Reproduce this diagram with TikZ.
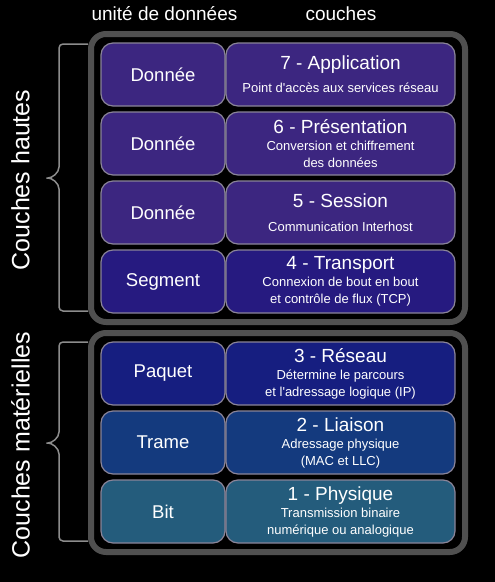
\documentclass[tikz,border=0pt]{standalone}
\usepackage{fontspec}
\setmainfont{Liberation Sans}[Ligatures=TeXOff]
\usetikzlibrary{positioning,fit}
\definecolor{edgegray}{HTML}{8A8498}
\definecolor{framegray}{HTML}{505050}
\definecolor{bracegray}{HTML}{8C8C8C}
\definecolor{haut}{HTML}{3C2680}
\definecolor{transp}{HTML}{261A80}
\definecolor{reseau}{HTML}{161E80}
\definecolor{liaison}{HTML}{143A7E}
\definecolor{physique}{HTML}{245C7C}
\newcommand\layertitle[1]{{\fontsize{19}{17}\selectfont #1}}

\begin{document}
\begin{tikzpicture}[x=1pt, y=-1pt,
    unit/.style = {draw=edgegray, line width=1.2pt, rounded corners=12pt,
      minimum width=124pt, minimum height=63pt, inner sep=0pt, outer sep=0pt,
      text=white, font=\fontsize{18.5}{22}\selectfont},
    layer/.style = {unit, minimum width=229pt, align=center,
      font=\fontsize{13}{17}\selectfont},
    frame/.style = {draw=framegray, line width=6pt, rounded corners=15pt,
      inner xsep=10pt, inner ysep=9pt},
    brace/.style = {draw=bracegray, line width=1.5pt, rounded corners=4pt},
    side/.style = {text=white, rotate=90, font=\fontsize{25}{30}\selectfont},
    head/.style = {text=white, anchor=base, font=\fontsize{19}{23}\selectfont}]
  \fill[black] (0,0) rectangle (495,582);
  \useasboundingbox (0,0) rectangle (495,582);

  \node[head] (hu) at (164.5,20.7) {unité de données};
  \node[head] (hc) at (341,20.7) {couches};

  % couches hautes
  \node[unit, fill=haut, anchor=north west] (u7) at (101,43) {Donnée};
  \node[unit, fill=haut] (u6) [below=6pt of u7] {Donnée};
  \node[unit, fill=haut] (u5) [below=6pt of u6] {Donnée};
  \node[unit, fill=transp] (u4) [below=6pt of u5] {Segment};
  \node[layer, fill=haut] (c7) [right=1pt of u7]
    {\layertitle{7 - Application}\\[6pt]Point d'accès aux services réseau};
  \node[layer, fill=haut] (c6) [right=1pt of u6]
    {\layertitle{6 - Présentation}\\Conversion et chiffrement\\des données};
  \node[layer, fill=haut] (c5) [right=1pt of u5]
    {\layertitle{5 - Session}\\[7pt]Communication Interhost};
  \node[layer, fill=transp] (c4) [right=1pt of u4]
    {\layertitle{4 - Transport}\\Connexion de bout en bout\\et contrôle de flux (TCP)};

  % couches materielles
  \node[unit, fill=reseau] (u3) [below=29pt of u4] {Paquet};
  \node[unit, fill=liaison] (u2) [below=6pt of u3] {Trame};
  \node[unit, fill=physique] (u1) [below=6pt of u2] {Bit};
  \node[layer, fill=reseau] (c3) [right=1pt of u3]
    {\layertitle{3 - Réseau}\\Détermine le parcours\\et l'adressage logique (IP)};
  \node[layer, fill=liaison] (c2) [right=1pt of u2]
    {\layertitle{2 - Liaison}\\Adressage physique\\(MAC et LLC)};
  \node[layer, fill=physique] (c1) [right=1pt of u1]
    {\layertitle{1 - Physique}\\Transmission binaire\\numérique ou analogique};

  \node[frame, fit=(u7)(c4)] (fh) {};
  \node[frame, fit=(u3)(c1)] (fm) {};

  % accolades
  \draw[brace] (88,44) -- (59,44) -- (59,163)
    .. controls (59,173) and (52,178) .. (44,178)
    .. controls (52,178) and (59,183) .. (59,193) -- (59,311) -- (88,311);
  \draw[brace] (88,342) -- (59,342) -- (59,428)
    .. controls (59,438) and (52,443) .. (44,443)
    .. controls (52,443) and (59,448) .. (59,458) -- (59,541) -- (88,541);

  \node[side] (sh) at (20.5,180) {Couches hautes};
  \node[side] (sm) at (20.5,445) {Couches matérielles};
\end{tikzpicture}
\end{document}
